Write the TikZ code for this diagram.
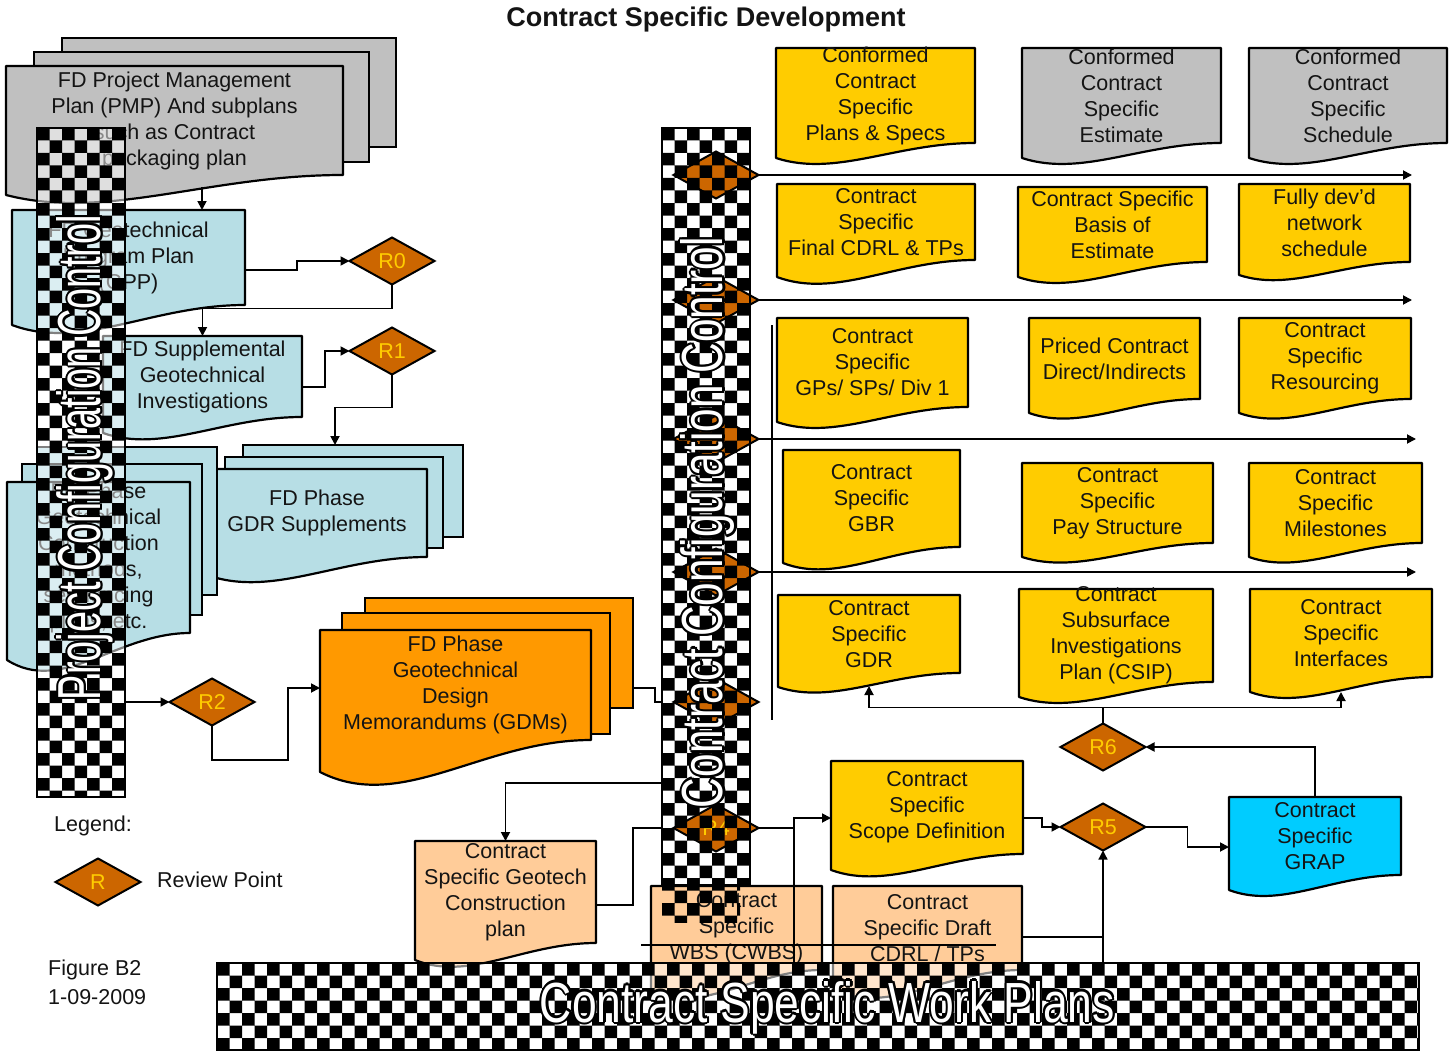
\documentclass[tikz,border=0pt]{standalone}
\usepackage{graphicx}
\usepackage{fontspec}
\setmainfont{Liberation Sans}
\usetikzlibrary{shapes.geometric,arrows.meta,calc}
\definecolor{cgray}{RGB}{192,192,192}
\definecolor{cblue}{RGB}{183,222,229}
\definecolor{corange}{RGB}{255,153,0}
\definecolor{cyellow}{RGB}{255,204,0}
\definecolor{cpeach}{RGB}{255,204,153}
\definecolor{ccyan}{RGB}{0,204,255}
\definecolor{cdia}{RGB}{204,102,0}
\definecolor{cdiatext}{RGB}{255,204,0}
\definecolor{ctext}{RGB}{20,20,20}
\pgfdeclarelayer{barw}
\pgfdeclarelayer{bard}
\pgfdeclarelayer{barf}
\pgfsetlayers{main,barw,bard,barf}
\newcommand\docfont{\fontsize{21.5}{26}\selectfont}
\newcommand\bigfont{\fontsize{56}{60}\selectfont}
\tikzset{
 docline/.style={draw=black, line width=2.2pt, line join=round},
 doctext/.style={align=center, font=\docfont, text=ctext, inner sep=0pt, outer sep=0pt},
 stackrect/.style={draw=black, line width=2.2pt, inner sep=0pt, outer sep=0pt},
 review/.style={diamond, draw=black, line width=2pt, fill=cdia, text=cdiatext, font=\docfont, minimum width=85pt, minimum height=47pt, inner sep=0pt, outer sep=0pt},
 conn/.style={draw=black, line width=1.8pt},
 arr/.style={conn, -{Triangle[length=9pt,width=9pt]}},
 barbox/.style={draw=black, line width=1.2pt, inner sep=0pt, outer sep=0pt},
 plain/.style={font=\docfont, text=ctext, inner sep=0pt},
}
% name x1 top x2 yRight yLeft fill text
\newcommand\Doc[8]{%
 \filldraw[docline, fill=#7] (#2,#3) -- (#4,#3) -- (#4,#5) .. controls ({#2+0.6*(#4-#2)},#5) and ({#2+0.3*(#4-#2)},{#6+1.3*(#6-#5)}) .. (#2,#6) -- cycle;
 \node[doctext, minimum width={#4-#2}, minimum height={#5-#3}] (#1) at ({(#2+#4)/2},{(#3+#5)/2}) {#8};}
% name x1 y1 x2 y2 fill
\newcommand\StackRect[6]{\node[stackrect, fill=#6, minimum width={#4-#2}, minimum height={#5-#3}] (#1) at ({(#2+#4)/2},{(#3+#5)/2}) {};}
% x1 y1 x2 y2 ncols nrows
\newcommand\Checker[6]{%
 \begin{scope}
 \clip (#1,#2) rectangle (#3,#4);
 \fill[black] foreach \ci in {0,...,#5} { foreach \cj in {0,...,#6} { ({#1+25*\ci},{#2+25*\cj}) rectangle ++(12.5,12.5) ({#1+25*\ci+12.5},{#2+25*\cj+12.5}) rectangle ++(12.5,12.5) } };
 \end{scope}}
% name x y rotation content
\newcommand\OutText[5]{%
 \foreach \ox/\oy in {-2.2/0,2.2/0,0/-2.2,0/2.2,-1.6/-1.6,1.6/1.6,-1.6/1.6,1.6/-1.6}{%
  \node[rotate=#4, text=black, inner sep=0pt] at ({#2+\ox},{#3+\oy}) {#5};}%
 \node[rotate=#4, text=white, inner sep=0pt] (#1) at (#2,#3) {#5};}
\begin{document}
\begin{tikzpicture}[x=1pt,y=-1pt]
\useasboundingbox (0,0) rectangle (1449,1054);
\fill[white] (0,0) rectangle (1449,1054);
\node[font=\fontsize{27}{30}\selectfont\bfseries, text=ctext] (title) at (706,20) {Contract Specific Development};

% ---- left column
\StackRect{pmpb1}{62}{38}{396}{147}{cgray}
\StackRect{pmpb2}{34}{52}{369}{162}{cgray}
\Doc{pmp}{6}{66}{343}{175}{195}{cgray}{FD Project Management\\Plan (PMP) And subplans\\such as Contract\\packaging plan}
\Doc{gpp}{12}{210}{245}{305}{325}{cblue}{FD Geotechnical\\Program Plan\\(GPP)}
\Doc{supp}{103}{336}{302}{417}{433}{cblue}{FD Supplemental\\Geotechnical\\Investigations}
\StackRect{gdrb1}{243}{445}{463}{537}{cblue}
\StackRect{gdrb2}{225}{457}{443}{548}{cblue}
\Doc{gdrs}{207}{469}{427}{557}{575}{cblue}{FD Phase\\GDR Supplements}
\StackRect{cmb1}{37}{447}{217}{595}{cblue}
\StackRect{cmb2}{22}{464}{202}{615}{cblue}
\Doc{cm}{7}{482}{190}{633}{660}{cblue}{FD Phase\\Geotechnical\\Construction\\methods,\\sequencing\\plans, etc.}
\StackRect{gdmb1}{365}{598}{633}{708}{corange}
\StackRect{gdmb2}{342}{613}{610}{734}{corange}
\Doc{gdm}{320}{630}{591}{740}{772}{corange}{FD Phase\\Geotechnical\\Design\\Memorandums (GDMs)}
\Doc{gplan}{415}{841}{596}{943}{960}{cpeach}{Contract\\Specific Geotech\\Construction\\plan}
\Doc{wbs}{651}{886}{822}{970}{990}{cpeach}{Contract\\Specific\\WBS (CWBS)}
\Doc{cdrl}{833}{886}{1022}{970}{990}{cpeach}{Contract\\Specific Draft\\CDRL / TPs}

% ---- right grid
\Doc{a1}{776}{48}{975}{143}{158}{cyellow}{Conformed\\Contract\\Specific\\Plans \& Specs}
\Doc{a2}{1022}{48}{1221}{143}{158}{cgray}{Conformed\\Contract\\Specific\\Estimate}
\Doc{a3}{1249}{48}{1447}{143}{158}{cgray}{Conformed\\Contract\\Specific\\Schedule}
\Doc{b1}{777}{184}{975}{260}{277}{cyellow}{Contract\\Specific\\Final CDRL \& TPs}
\Doc{b2}{1018}{187}{1207}{262}{277}{cyellow}{Contract Specific\\Basis of\\Estimate}
\Doc{b3}{1239}{184}{1410}{262}{275}{cyellow}{Fully dev’d\\network\\schedule}
\Doc{c1}{777}{318}{968}{407}{422}{cyellow}{Contract\\Specific\\GPs/ SPs/ Div 1}
\Doc{c2}{1029}{318}{1200}{399}{413}{cyellow}{Priced Contract\\Direct/Indirects}
\Doc{c3}{1239}{318}{1411}{399}{413}{cyellow}{Contract\\Specific\\Resourcing}
\Doc{d1b}{783}{450}{960}{547}{563}{cyellow}{Contract\\Specific\\GBR}
\Doc{d2b}{1022}{463}{1213}{543}{557}{cyellow}{Contract\\Specific\\Pay Structure}
\Doc{d3b}{1249}{463}{1422}{543}{557}{cyellow}{Contract\\Specific\\Milestones}
\Doc{gdr}{778}{595}{960}{673}{687}{cyellow}{Contract\\Specific\\GDR}
\Doc{csip}{1019}{589}{1213}{682}{697}{cyellow}{Contract\\Subsurface\\Investigations\\Plan (CSIP)}
\Doc{intf}{1250}{589}{1432}{677}{692}{cyellow}{Contract\\Specific\\Interfaces}
\Doc{scope}{831}{761}{1023}{854}{870}{cyellow}{Contract\\Specific\\Scope Definition}
\Doc{grap}{1229}{797}{1401}{875}{890}{ccyan}{Contract\\Specific\\GRAP}

% ---- review points
\node[review] (r0) at (392,261) {R0};
\node[review] (r1) at (392,351) {R1};
\node[review] (r2) at (212,702) {R2};
\node[review] (r6) at (1103,747) {R6};
\node[review] (r5) at (1103,827) {R5};

% ---- legend
\node[plain, anchor=west] (legend) at (54,826) {Legend:};
\node[review] (rleg) at (98,882) {R};
\node[plain, anchor=west] (rpt) at (157,880) {Review Point};
\node[plain, anchor=west] (fig) at (48,970) {Figure B2};
\node[plain, anchor=west] (date) at (48,997) {1-09-2009};

% ---- bars (nodes)
\begin{pgfonlayer}{barw}
\fill[white, opacity=0.5] (37,128) rectangle (125,797);
\fill[white] (662,128) rectangle (750,885);
\fill[white, opacity=0.5] (217,963) rectangle (1419,1050);
\end{pgfonlayer}
\begin{pgfonlayer}{bard}
\node[review] (d1) at (716,175) {};
\node[review] (d2) at (716,300) {};
\node[review] (d3) at (716,439) {};
\node[review] (d4) at (716,572) {};
\node[review] (r3) at (716,702) {};
\node[review] (r4) at (716,828) {R4};
\end{pgfonlayer}
\begin{pgfonlayer}{barf}
\Checker{37}{128}{125}{797}{3}{26}
\Checker{662}{128}{750}{885}{3}{30}
\Checker{662}{878}{740}{922}{3}{1}
\Checker{217}{963}{1419}{1050}{48}{3}
\node[barbox, minimum width=88pt, minimum height=669pt] (pccbar) at (81,462.5) {};
\node[barbox, minimum width=88pt, minimum height=757pt] (ccbar) at (706,506.5) {};
\node[barbox, minimum width=1202pt, minimum height=87pt] (wpbar) at (818,1006.5) {};
\OutText{pcctext}{85}{457.5}{90}{\resizebox{485pt}{44pt}{\bigfont Project Configuration Control}}
\OutText{cctext}{708}{522.5}{90}{\resizebox{571pt}{42pt}{\bigfont Contract Configuration Control}}
\OutText{wptext}{827.5}{1007.5}{0}{\resizebox{575pt}{41pt}{\bigfont Contract Specific Work Plans}}
\end{pgfonlayer}

% ---- connectors
\draw[arr] ([xshift=27.5pt,yshift=-12pt]pmp.south) -- ([xshift=73.5pt]gpp.north);
\draw[arr] ([yshift=-12.5pt]gpp.east) -- ++(52,0) |- (r0.west);
\draw[arr] (r0.south) -- ++(0,24) -| (supp.north);
\draw[arr] ([yshift=-10.5pt]supp.east) -- ++(23,0) |- (r1.west);
\draw[arr] (r1.south) -- ++(0,33) -| ([xshift=-18pt]gdrb1.north);
\draw[arr] (pccbar.east |- r2.west) -- (r2.west);
\draw[arr] (r2.south) -- ++(0,34.5) -| ([xshift=-32pt,yshift=-3pt]gdm.west) -- ([yshift=-3pt]gdm.west);
\draw[conn] ([yshift=-35pt]gdmb1.east) -- ++(22,0) |- (r3.west);
\draw[arr] ([yshift=-276.5pt]ccbar.west) -| (gplan.north);
\draw[arr] ([yshift=-13pt]gplan.east) -- ++(37,0) |- (r4.west);
\coordinate (jn) at (794,828);
\draw[conn] (r4.east) -- (jn);
\draw[arr] (wpbar.north -| jn) |- ([yshift=-10.5pt]scope.west);
\draw[arr] ([yshift=-10.5pt]scope.east) -- ++(19,0) |- (r5.west);
\draw[arr] (r5.east) -- ++(42,0) |- ([yshift=-11pt]grap.west);
\draw[arr, line width=1.3pt] (wpbar.north -| r5.south) -- (r5.south);
\coordinate (cdrlout) at ([yshift=-9pt]cdrl.east);
\draw[conn, line width=1.2pt] (cdrlout) -- (cdrlout -| r5.south);
\draw[arr] (grap.north) |- (r6.east);
\coordinate (r6up) at ([yshift=16pt]r6.north);
\draw[conn] (r6.north) -- (r6up);
\draw[arr] (r6up) -| ([yshift=-13pt]gdr.south);
\draw[arr] (r6up) -| ([yshift=-15pt]intf.south);
\coordinate (f1) at (1412,175);
\coordinate (f2) at (1412,300);
\coordinate (f3) at (1416,439);
\coordinate (f4) at (1416,572);
\draw[arr] (d1.east) -- (f1);
\draw[arr] (d2.east) -- (f2);
\draw[arr] (d3.east) -- (f3);
\draw[arr] (d4.east) -- (f4);
\draw[line width=1.4pt] (772,325) -- (772,720);
\draw[line width=1.4pt] (641,945) -- (996,945);
\end{tikzpicture}
\end{document}
